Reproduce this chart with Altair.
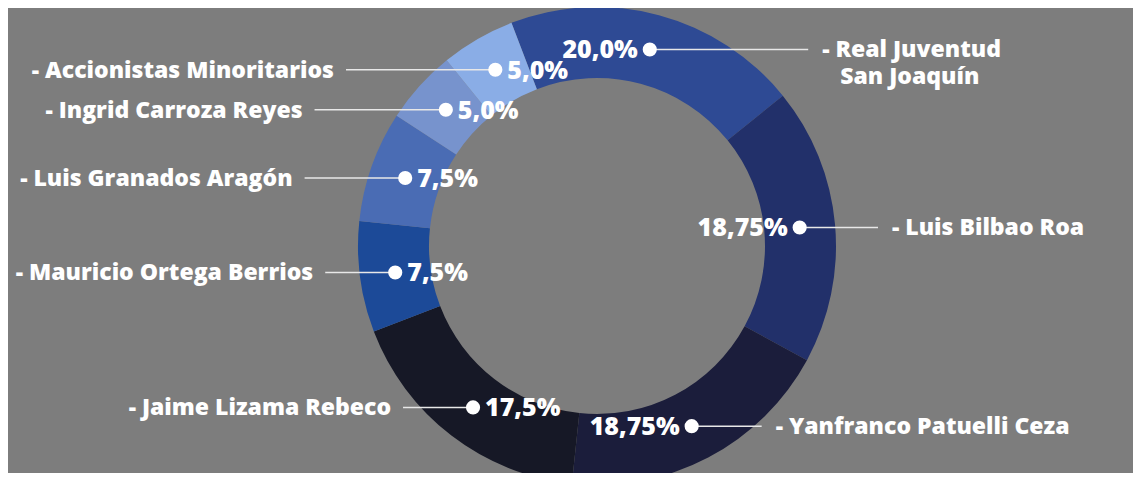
import altair as alt
import pandas as pd

# ---- data ----
names = [
    "Real Juventud San Joaquín",
    "Luis Bilbao Roa",
    "Yanfranco Patuelli Ceza",
    "Jaime Lizama Rebeco",
    "Mauricio Ortega Berrios",
    "Luis Granados Aragón",
    "Ingrid Carroza Reyes",
    "Accionistas Minoritarios",
]
name_line1 = [
    "- Real Juventud",
    "- Luis Bilbao Roa",
    "- Yanfranco Patuelli Ceza",
    "- Jaime Lizama Rebeco",
    "- Mauricio Ortega Berrios",
    "- Luis Granados Aragón",
    "- Ingrid Carroza Reyes",
    "- Accionistas Minoritarios",
]
name_line2 = ["San Joaquín", "", "", "", "", "", "", ""]
shares = [20.0, 18.75, 18.75, 17.5, 7.5, 7.5, 5.0, 5.0]
share_labels = ["20,0%", "18,75%", "18,75%", "17,5%", "7,5%", "7,5%", "5,0%", "5,0%"]
colors = ["#2E4A94", "#22306A", "#1B1D3B", "#161826",
          "#1C4A98", "#4A6CB4", "#7793CD", "#8AADE6"]

df = pd.DataFrame({
    "idx": list(range(len(names))),
    "name": names,
    "line1": name_line1,
    "line2": name_line2,
    "share": shares,
    "pct": share_labels,
})

# ---- layout / style ----
W, H = 1125, 465
CX, CY = 589, 238            # centre of the ring inside the plot
R_OUT, R_IN = 239, 168
R_MID = (R_OUT + R_IN) / 2
A0 = -0.366                  # start angle (radians, clockwise from 12 o'clock)
LEAD = 70                    # base leader length (px)
LEAD_K = 0.45                # extra leader length per px of height above centre
TWO_PI = 6.283185307179586
FONT = "Open Sans"
NAME_SIZE = 23
PCT_SIZE = 25

xs = alt.Scale(domain=[-CX, W - CX], range=[0, W], nice=False, zero=False)
ys = alt.Scale(domain=[-(H - CY), CY], nice=False, zero=False)

base = alt.Chart(df)

ring = base.mark_arc(innerRadius=R_IN, outerRadius=R_OUT, stroke=None).encode(
    x=alt.X(datum=0, type="quantitative", scale=xs, axis=None),
    y=alt.Y(datum=0, type="quantitative", scale=ys, axis=None),
    theta=alt.Theta("share:Q", stack=True,
                    scale=alt.Scale(range=[A0, A0 + TWO_PI])),
    order=alt.Order("idx:Q"),
    color=alt.Color("name:N", scale=alt.Scale(domain=names, range=colors), legend=None),
)

pos = (
    base.transform_joinaggregate(total="sum(share)")
    .transform_window(cum="sum(share)", sort=[alt.SortField("idx")], frame=[None, 0])
    .transform_calculate(
        ang=f"{A0} + {TWO_PI} * (datum.cum - datum.share / 2) / datum.total",
    )
    .transform_calculate(
        px=f"{R_MID} * sin(datum.ang)",
        py=f"{R_MID} * cos(datum.ang)",
    )
    .transform_calculate(
        side="datum.px < 0 ? -1 : 1",
    )
    .transform_calculate(
        ex=f"datum.px + datum.side * ({LEAD} + {LEAD_K} * max(datum.py, 0))",
    )
)

X = alt.X("px:Q", scale=xs, axis=None)
Y = alt.Y("py:Q", scale=ys, axis=None)
EX = alt.X("ex:Q", scale=xs, axis=None)

lines = pos.mark_rule(color="#e8e8e8", strokeWidth=1.5).encode(
    x=X, x2="ex:Q", y=Y,
)

dots = pos.mark_point(filled=True, size=200, color="white", opacity=1).encode(x=X, y=Y)

txt = dict(font=FONT, fontWeight=800, color="white", baseline="alphabetic")

pct_left = pos.transform_filter("datum.side < 0").mark_text(
    align="left", dx=12, dy=9, fontSize=PCT_SIZE, **txt,
).encode(x=X, y=Y, text="pct:N")

pct_right = pos.transform_filter("datum.side > 0").mark_text(
    align="right", dx=-12, dy=9, fontSize=PCT_SIZE, **txt,
).encode(x=X, y=Y, text="pct:N")

name_left = pos.transform_filter("datum.side < 0").mark_text(
    align="right", dx=-12, dy=8, fontSize=NAME_SIZE, **txt,
).encode(x=EX, y=Y, text="line1:N")

name_right = pos.transform_filter("datum.side > 0").mark_text(
    align="left", dx=14, dy=8, fontSize=NAME_SIZE, **txt,
).encode(x=EX, y=Y, text="line1:N")

name_right2 = pos.transform_filter("datum.side > 0 && datum.line2 != ''").mark_text(
    align="left", dx=32, dy=35, fontSize=NAME_SIZE, **txt,
).encode(x=EX, y=Y, text="line2:N")

chart = (
    alt.layer(ring, lines, dots, pct_left, pct_right, name_left, name_right, name_right2)
    .properties(width=W, height=H, padding=0,
                autosize=alt.AutoSizeParams(type="none"),
                background="#7d7d7d")
    .configure_view(stroke=None)
)

chart.save("out.html", embed_options={"renderer": "svg", "actions": False})
